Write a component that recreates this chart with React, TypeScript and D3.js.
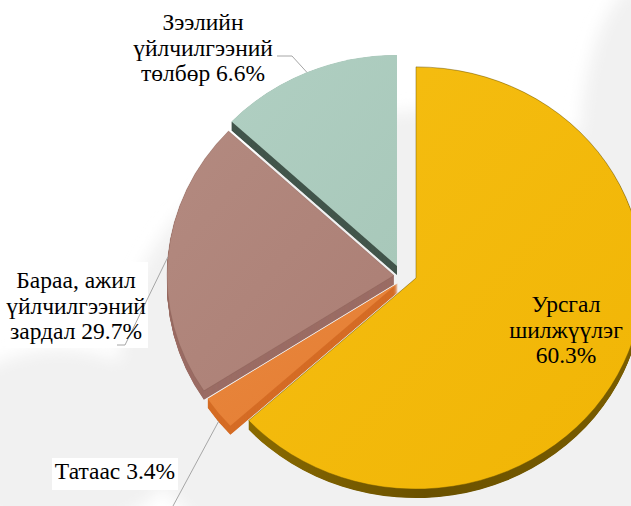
import React from 'react';
import * as d3 from 'd3';

// ---- data ----
const categories = [
  'Урсгал шилжүүлэг',
  'Татаас',
  'Бараа, ажил үйлчилгээний зардал',
  'Зээлийн үйлчилгээний төлбөр',
];
const labelPercents = ['60.3%', '3.4%', '29.7%', '6.6%'];
// share of the circle actually drawn for each slice
const sliceShares = [63.2, 2.6, 21.2, 13.0];
const labelLines = [
  ['Урсгал', 'шилжүүлэг'],
  ['Татаас'],
  ['Бараа, ажил', 'үйлчилгээний', 'зардал'],
  ['Зээлийн', 'үйлчилгээний', 'төлбөр'],
];

// ---- style / layout ----
const W = 631;
const H = 506;
const CX = 401;
const CY = 272;
const R = 227;
const SY = 0.93;
const DEPTH = 9;
const FONT = 'Liberation Serif';
const FONT_SIZE = 23.5;
const LINE_H = 25.5;
const percentOwnLine = [true, false, false, false];
const topColors = ['#f1b505', '#e57d33', '#ab7e74', '#a8c8ba'];
const topLight = ['#f5be12', '#e8873d', '#b38a80', '#b0cfc2'];
const wallColors = ['#6e5400', '#d56d26', '#9b6d65', '#43564c'];
const outlineColors = ['rgba(110,85,0,0.6)', 'none', 'rgba(120,80,70,0.35)', 'none'];
const offsets = [[15, 6], [-3.2, 11.3], [-7, 3.5], [-4, -6]];
const drawOrder = [3, 2, 1, 0];
const labelPos = [
  { x: 566, y: 312 },
  { x: 115, y: 479 },
  { x: 76, y: 288 },
  { x: 203, y: 30 },
];
// leader lines: points near the label, then the slice's outer edge
const leaderStarts: (number[][] | null)[] = [
  null,
  [[173, 506]],
  [[117, 345], [125, 345]],
  [[277, 56], [292, 56]],
];
const leaderOnWall = [false, true, false, false];

export default function App() {
  const pie = d3
    .pie<number>()
    .sort(null)
    .value((d) => d)
    .startAngle(0)
    .endAngle(2 * Math.PI);
  const arcs = pie(sliceShares);
  const arcGen = d3.arc<d3.PieArcDatum<number>>().innerRadius(0).outerRadius(R);

  const layers: number[] = [];
  for (let k = DEPTH; k > 0; k -= 0.5) layers.push(k);

  const leaderEnd = (i: number) => {
    const a = arcs[i];
    const mid = (a.startAngle + a.endAngle) / 2;
    const x = CX + offsets[i][0] + R * Math.sin(mid);
    const y = CY + offsets[i][1] - R * SY * Math.cos(mid) + (leaderOnWall[i] ? DEPTH : 0);
    return [x, y];
  };

  const line = d3.line();

  return (
    <div style={{ position: 'fixed', left: 0, top: 0, width: W, height: H, background: '#fff' }}>
      <svg width={W} height={H} viewBox={`0 0 ${W} ${H}`} style={{ display: 'block', fontFamily: "'Liberation Serif'" }}>
        <defs>
          <filter id="soft" x="-30%" y="-30%" width="160%" height="160%">
            <feGaussianBlur stdDeviation="8" />
          </filter>
          {arcs.map((_, i) => (
            <linearGradient key={i} id={`top${i}`} x1="0" y1="0" x2="1" y2="1">
              <stop offset="0%" stopColor={topLight[i]} />
              <stop offset="100%" stopColor={topColors[i]} />
            </linearGradient>
          ))}
          <linearGradient id="rim0" x1="0" y1="0" x2="1" y2="0">
            <stop offset="0%" stopColor="#8a6a00" />
            <stop offset="45%" stopColor="#6a5100" />
            <stop offset="100%" stopColor="#7a5d00" />
          </linearGradient>
        </defs>

        <rect x={0} y={0} width={W} height={H} fill="#ffffff" />
        {/* soft grey backdrop */}
        <g filter="url(#soft)" fill="#f1f1f1">
          <ellipse cx={440} cy={360} rx={320} ry={250} />
          <ellipse cx={650} cy={150} rx={70} ry={170} />
          <ellipse cx={60} cy={440} rx={120} ry={90} />
        </g>
        <rect x={6} y={262} width={142} height={86} fill="#ffffff" />
        <rect x={52} y={458} width={126} height={32} fill="#ffffff" />

        {/* slices */}
        {drawOrder.map((i) => {
          const a = arcs[i];
          const d = arcGen(a) || '';
          const [ox, oy] = offsets[i];
          return (
            <g key={categories[i]} transform={`translate(${CX + ox},${CY + oy})`}>
              {layers.map((k) => (
                <path
                  key={k}
                  d={d}
                  transform={`translate(0,${k}) scale(1,${SY})`}
                  fill={i === 0 ? 'url(#rim0)' : wallColors[i]}
                />
              ))}
              <path
                d={d}
                transform={`scale(1,${SY})`}
                fill={`url(#top${i})`}
                stroke={outlineColors[i]}
                strokeWidth={0.8}
                vectorEffect="non-scaling-stroke"
              />
            </g>
          );
        })}

        {/* leader lines */}
        {leaderStarts.map((pts, i) =>
          pts ? (
            <path
              key={`ld${i}`}
              d={line([...(pts as [number, number][]), leaderEnd(i) as [number, number]]) || ''}
              fill="none"
              stroke="#a6a6a6"
              strokeWidth={1}
            />
          ) : null
        )}

        {/* labels */}
        {labelLines.map((lines, i) => {
          const all = percentOwnLine[i]
            ? [...lines, labelPercents[i]]
            : lines.map((l, j) => (j === lines.length - 1 ? `${l} ${labelPercents[i]}` : l));
          return all.map((t, j) => (
            <text
              key={`lb${i}-${j}`}
              x={labelPos[i].x}
              y={labelPos[i].y + j * LINE_H}
              textAnchor="middle"
              fontFamily={FONT}
              fontSize={FONT_SIZE}
              fill="#000"
            >
              {t}
            </text>
          ));
        })}
      </svg>
    </div>
  );
}
